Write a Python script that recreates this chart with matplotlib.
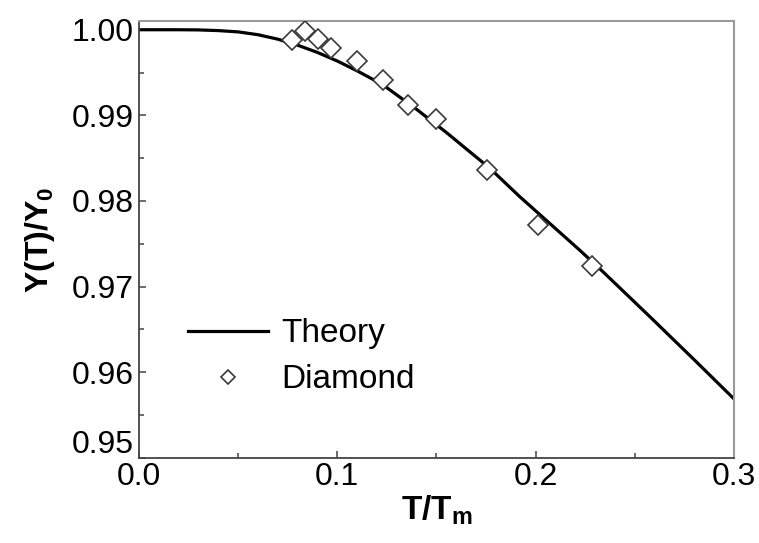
import matplotlib

matplotlib.use("Agg")
import matplotlib.pyplot as plt  # noqa: E402
from matplotlib.ticker import MultipleLocator  # noqa: E402
from matplotlib.transforms import ScaledTranslation  # noqa: E402

plt.rcParams["font.family"] = ["Liberation Sans", "DejaVu Sans"]
plt.rcParams["mathtext.fontset"] = "custom"
plt.rcParams["mathtext.rm"] = "Liberation Sans"
plt.rcParams["mathtext.bf"] = "Liberation Sans:bold"

# theory curve, normalised Young's modulus vs homologous temperature
theory_t = [0.000, 0.020, 0.030, 0.040, 0.050, 0.060, 0.070, 0.080, 0.090, 0.100,
            0.110, 0.123, 0.140, 0.155, 0.177, 0.192, 0.222, 0.234, 0.258, 0.280, 0.300]
theory_y = [1.0000, 1.0000, 0.99998, 0.99990, 0.99975, 0.99942, 0.99890, 0.99820, 0.99735, 0.99635,
            0.99520, 0.99357, 0.99070, 0.98800, 0.98380, 0.98050, 0.97430, 0.97172, 0.96639, 0.96144, 0.95688]

# measured diamond data
diamond_t = [0.077, 0.0837, 0.0904, 0.0971, 0.110, 0.1232, 0.1358, 0.1497, 0.1756, 0.2013, 0.2283]
diamond_y = [0.99883, 0.9998, 0.99891, 0.99786, 0.9963, 0.99416, 0.99124, 0.98957, 0.98364, 0.9772, 0.97235]

fig = plt.figure(figsize=(7.59, 5.43), dpi=100)
ax = fig.add_axes([0.183, 0.157, 0.784, 0.804])

ax.plot(theory_t, theory_y, color="black", linewidth=2.3, label="Theory", zorder=2)
ax.plot(diamond_t, diamond_y, linestyle="none", marker="D", markersize=10,
        markerfacecolor="white", markeredgecolor="#3a3a3a", markeredgewidth=1.2,
        label="Diamond", zorder=3)

ax.set_xlim(0.0, 0.3)
ax.set_ylim(0.95, 1.001)
ax.set_xticks([0.0, 0.1, 0.2, 0.3])
ax.set_xticklabels(["0.0", "0.1", "0.2", "0.3"])
ax.set_yticks([0.95, 0.96, 0.97, 0.98, 0.99, 1.00])
ax.set_yticklabels(["0.95", "0.96", "0.97", "0.98", "0.99", "1.00"])
ax.xaxis.set_minor_locator(MultipleLocator(0.05))
ax.yaxis.set_minor_locator(MultipleLocator(0.005))
ax.tick_params(which="both", direction="in", labelsize=23, width=1.1, color="#444444")
ax.tick_params(which="major", length=5)
ax.tick_params(which="minor", length=3.5)
ax.tick_params(axis="x", pad=3)
ax.tick_params(axis="y", pad=4)

# lift the lowest y label clear of the x origin label
low = ax.get_yticklabels()[0]
low.set_transform(low.get_transform() + ScaledTranslation(0, 0.16, fig.dpi_scale_trans))

for side in ("left", "bottom"):
    ax.spines[side].set_color("#444444")
    ax.spines[side].set_linewidth(1.3)
for side in ("top", "right"):
    ax.spines[side].set_color("#9a9a9a")
    ax.spines[side].set_linewidth(1.5)

ax.set_xlabel(r"$\mathbf{T/T}_\mathbf{m}$", fontsize=24, labelpad=1)
ax.set_ylabel(r"$\mathbf{Y(T)/Y}_\mathbf{0}$", fontsize=23, labelpad=10)

ax.legend(loc="upper left", bbox_to_anchor=(0.06, 0.35), frameon=False, fontsize=24,
          handlelength=2.4, handletextpad=0.4, labelspacing=0.45, markerscale=0.7,
          borderaxespad=0)

fig.savefig("out.png", dpi=100)
